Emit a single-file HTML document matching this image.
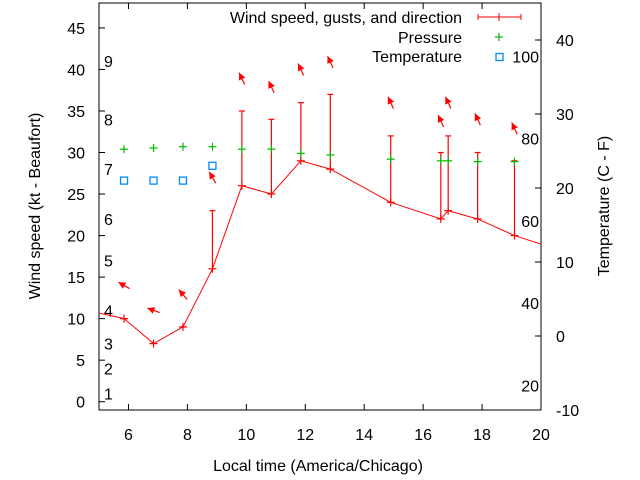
<!DOCTYPE html>
<html><head><meta charset="utf-8"><style>
html,body{margin:0;padding:0;background:#fff}
svg{display:block;font-family:"Liberation Sans",sans-serif;font-size:16px}
</style></head><body>
<svg id="c" width="640" height="480" viewBox="0 0 640 480"></svg>
<script>
const times=[5.85,6.85,7.85,8.85,9.85,10.85,11.85,12.85,14.9,16.6,16.85,17.85,19.1];
const wind=[10,7,9,16,26,25,29,28,24,22,23,22,20];
const gusts=[10,7,9,23,35,34,36,37,32,30,32,30,29];
const pressure=[30.4,30.55,30.7,30.7,30.4,30.4,29.9,29.7,29.2,29.0,29.0,28.9,28.9];
const arrowLevel=[14,11,12.9,27,38.9,37.9,40,40.9,36,33.8,36,34,32.9];
const windDir=[120,110,140,150,155,155,155,155,155,155,155,155,155];
const lineTimes=[4.85,5.85,6.85,7.85,8.85,9.85,10.85,11.85,12.85,14.9,16.6,16.85,17.85,19.1,20.85];
const lineWind=[10.8,10,7,9,16,26,25,29,28,24,22,23,22,20,18];
const tempTimes=[5.85,6.85,7.85,8.85];
const tempC=[21,21,21,23];
const xTicks=[6,8,10,12,14,16,18,20];
const yTicks=[0,5,10,15,20,25,30,35,40,45];
const y2Ticks=[-10,0,10,20,30,40];
const fTicks=[20,40,60,80,100];
const beaufortLabels=["1","2","3","4","5","6","7","8","9"];
const beaufortSpeeds=[1,4,7,11,17,22,28,34,41];

const L=99,R=541,T=3,B=410;
const X=t=>L+(t-5)/(20-5)*(R-L);
const Y=v=>B-(v+1)/(48+1)*(B-T);
const Y2=c=>B-(c+10)/(45+10)*(B-T);
const NS="http://www.w3.org/2000/svg";
const svg=document.getElementById('c');
function el(tag,attrs,parent){const e=document.createElementNS(NS,tag);for(const k in attrs)e.setAttribute(k,attrs[k]);(parent||svg).appendChild(e);return e;}
function txt(x,y,s,anchor,parent){const e=el('text',{x:x,y:y,'text-anchor':anchor||'start',fill:'#000'},parent);e.textContent=s;return e;}

const defs=el('defs',{});
const cp=el('clipPath',{id:'clip'},defs);el('rect',{x:L,y:T,width:R-L,height:B-T},cp);

const axes=el('g',{stroke:'#000','stroke-width':1});


xTicks.forEach(t=>{const x=X(t);el('line',{x1:x,y1:B,x2:x,y2:B-6},axes);el('line',{x1:x,y1:T,x2:x,y2:T+6},axes);
 const l=txt(x,440,String(t),'middle');});
yTicks.forEach(v=>{const y=Y(v);el('line',{x1:L,y1:y,x2:L+6,y2:y},axes);
 const l=txt(85,y+6,String(v),'end');});
y2Ticks.forEach(v=>{const y=Y2(v);el('line',{x1:R,y1:y,x2:R-6,y2:y},axes);
 const l=txt(556,y+6,String(v),'start');});
fTicks.forEach(f=>{const y=Y2((f-32)*5/9);
 const l=txt(539,y+6,String(f),'end');});
beaufortLabels.forEach((s,i)=>{const l=txt(104,Y(beaufortSpeeds[i])+6,s,'start');});
const frame=el('rect',{x:L,y:T,width:R-L,height:B-T,fill:'none',stroke:'#000'});



const g=el('g',{'clip-path':'url(#clip)'});
const pl=el('polyline',{points:lineTimes.map((t,i)=>X(t)+','+Y(lineWind[i])).join(' '),fill:'none',stroke:'#f00','stroke-width':1},g);


times.forEach((t,i)=>{const x=X(t),y=Y(wind[i]),yg=Y(gusts[i]);
 const eb=el('g',{stroke:'#f00','stroke-width':1.2},g);
 
 
 el('line',{x1:x,y1:y,x2:x,y2:yg},eb);el('line',{x1:x-3,y1:yg,x2:x+3,y2:yg},eb);
 el('line',{x1:x-4,y1:y,x2:x+4,y2:y},eb);el('line',{x1:x,y1:y-4,x2:x,y2:y+4},eb);
 const py=Y(pressure[i]);
 const pg=el('g',{stroke:'#0b0','stroke-width':1.2},g);
 
 
 el('line',{x1:x-4,y1:py,x2:x+4,y2:py},pg);el('line',{x1:x,y1:py-4,x2:x,y2:py+4},pg);
 const cy=Y(arrowLevel[i]);const h=(windDir[i]+180)*Math.PI/180;
 const dx=Math.sin(h),dy=-Math.cos(h),len=13;
 const hx=x+dx*len/2,hy=cy+dy*len/2,tx=x-dx*len/2,ty=cy-dy*len/2;
 const ag=el('g',{},g);
 
 
 el('line',{x1:tx,y1:ty,x2:hx,y2:hy,stroke:'#f00','stroke-width':1.2},ag);
 const px=-dy,py2=dx;
 el('polygon',{points:`${hx},${hy} ${hx-dx*7+px*3.5},${hy-dy*7+py2*3.5} ${hx-dx*7-px*3.5},${hy-dy*7-py2*3.5}`,fill:'#f00'},ag);
});
tempTimes.forEach((t,i)=>{const r=el('rect',{x:X(t)-3.5,y:Y2(tempC[i])-3.5,width:7,height:7,fill:'none',stroke:'#08f','stroke-width':1.3},g);
 
 });

const lg=el('g',{});


txt(462,23,'Wind speed, gusts, and direction','end',lg);
el('line',{x1:478,y1:17,x2:521,y2:17,stroke:'#f00'},lg);
el('line',{x1:478,y1:14,x2:478,y2:20,stroke:'#f00'},lg);
el('line',{x1:521,y1:14,x2:521,y2:20,stroke:'#f00'},lg);
el('line',{x1:499,y1:13,x2:499,y2:21,stroke:'#f00'},lg);
txt(462,43,'Pressure','end',lg);
el('line',{x1:495,y1:37,x2:503,y2:37,stroke:'#0b0','stroke-width':1.2},lg);
el('line',{x1:499,y1:33,x2:499,y2:41,stroke:'#0b0','stroke-width':1.2},lg);
txt(462,62,'Temperature','end',lg);
el('rect',{x:496,y:53.5,width:7,height:7,fill:'none',stroke:'#08f','stroke-width':1.3},lg);

const xt=txt(318,471,'Local time (America/Chicago)','middle');

const yt=txt(0,0,'Wind speed (kt - Beaufort)','middle');yt.setAttribute('transform','translate(40,206) rotate(-90)');

const y2t=txt(0,0,'Temperature (C - F)','middle');y2t.setAttribute('transform','translate(609,206) rotate(-90)');

</script>
</body></html>
